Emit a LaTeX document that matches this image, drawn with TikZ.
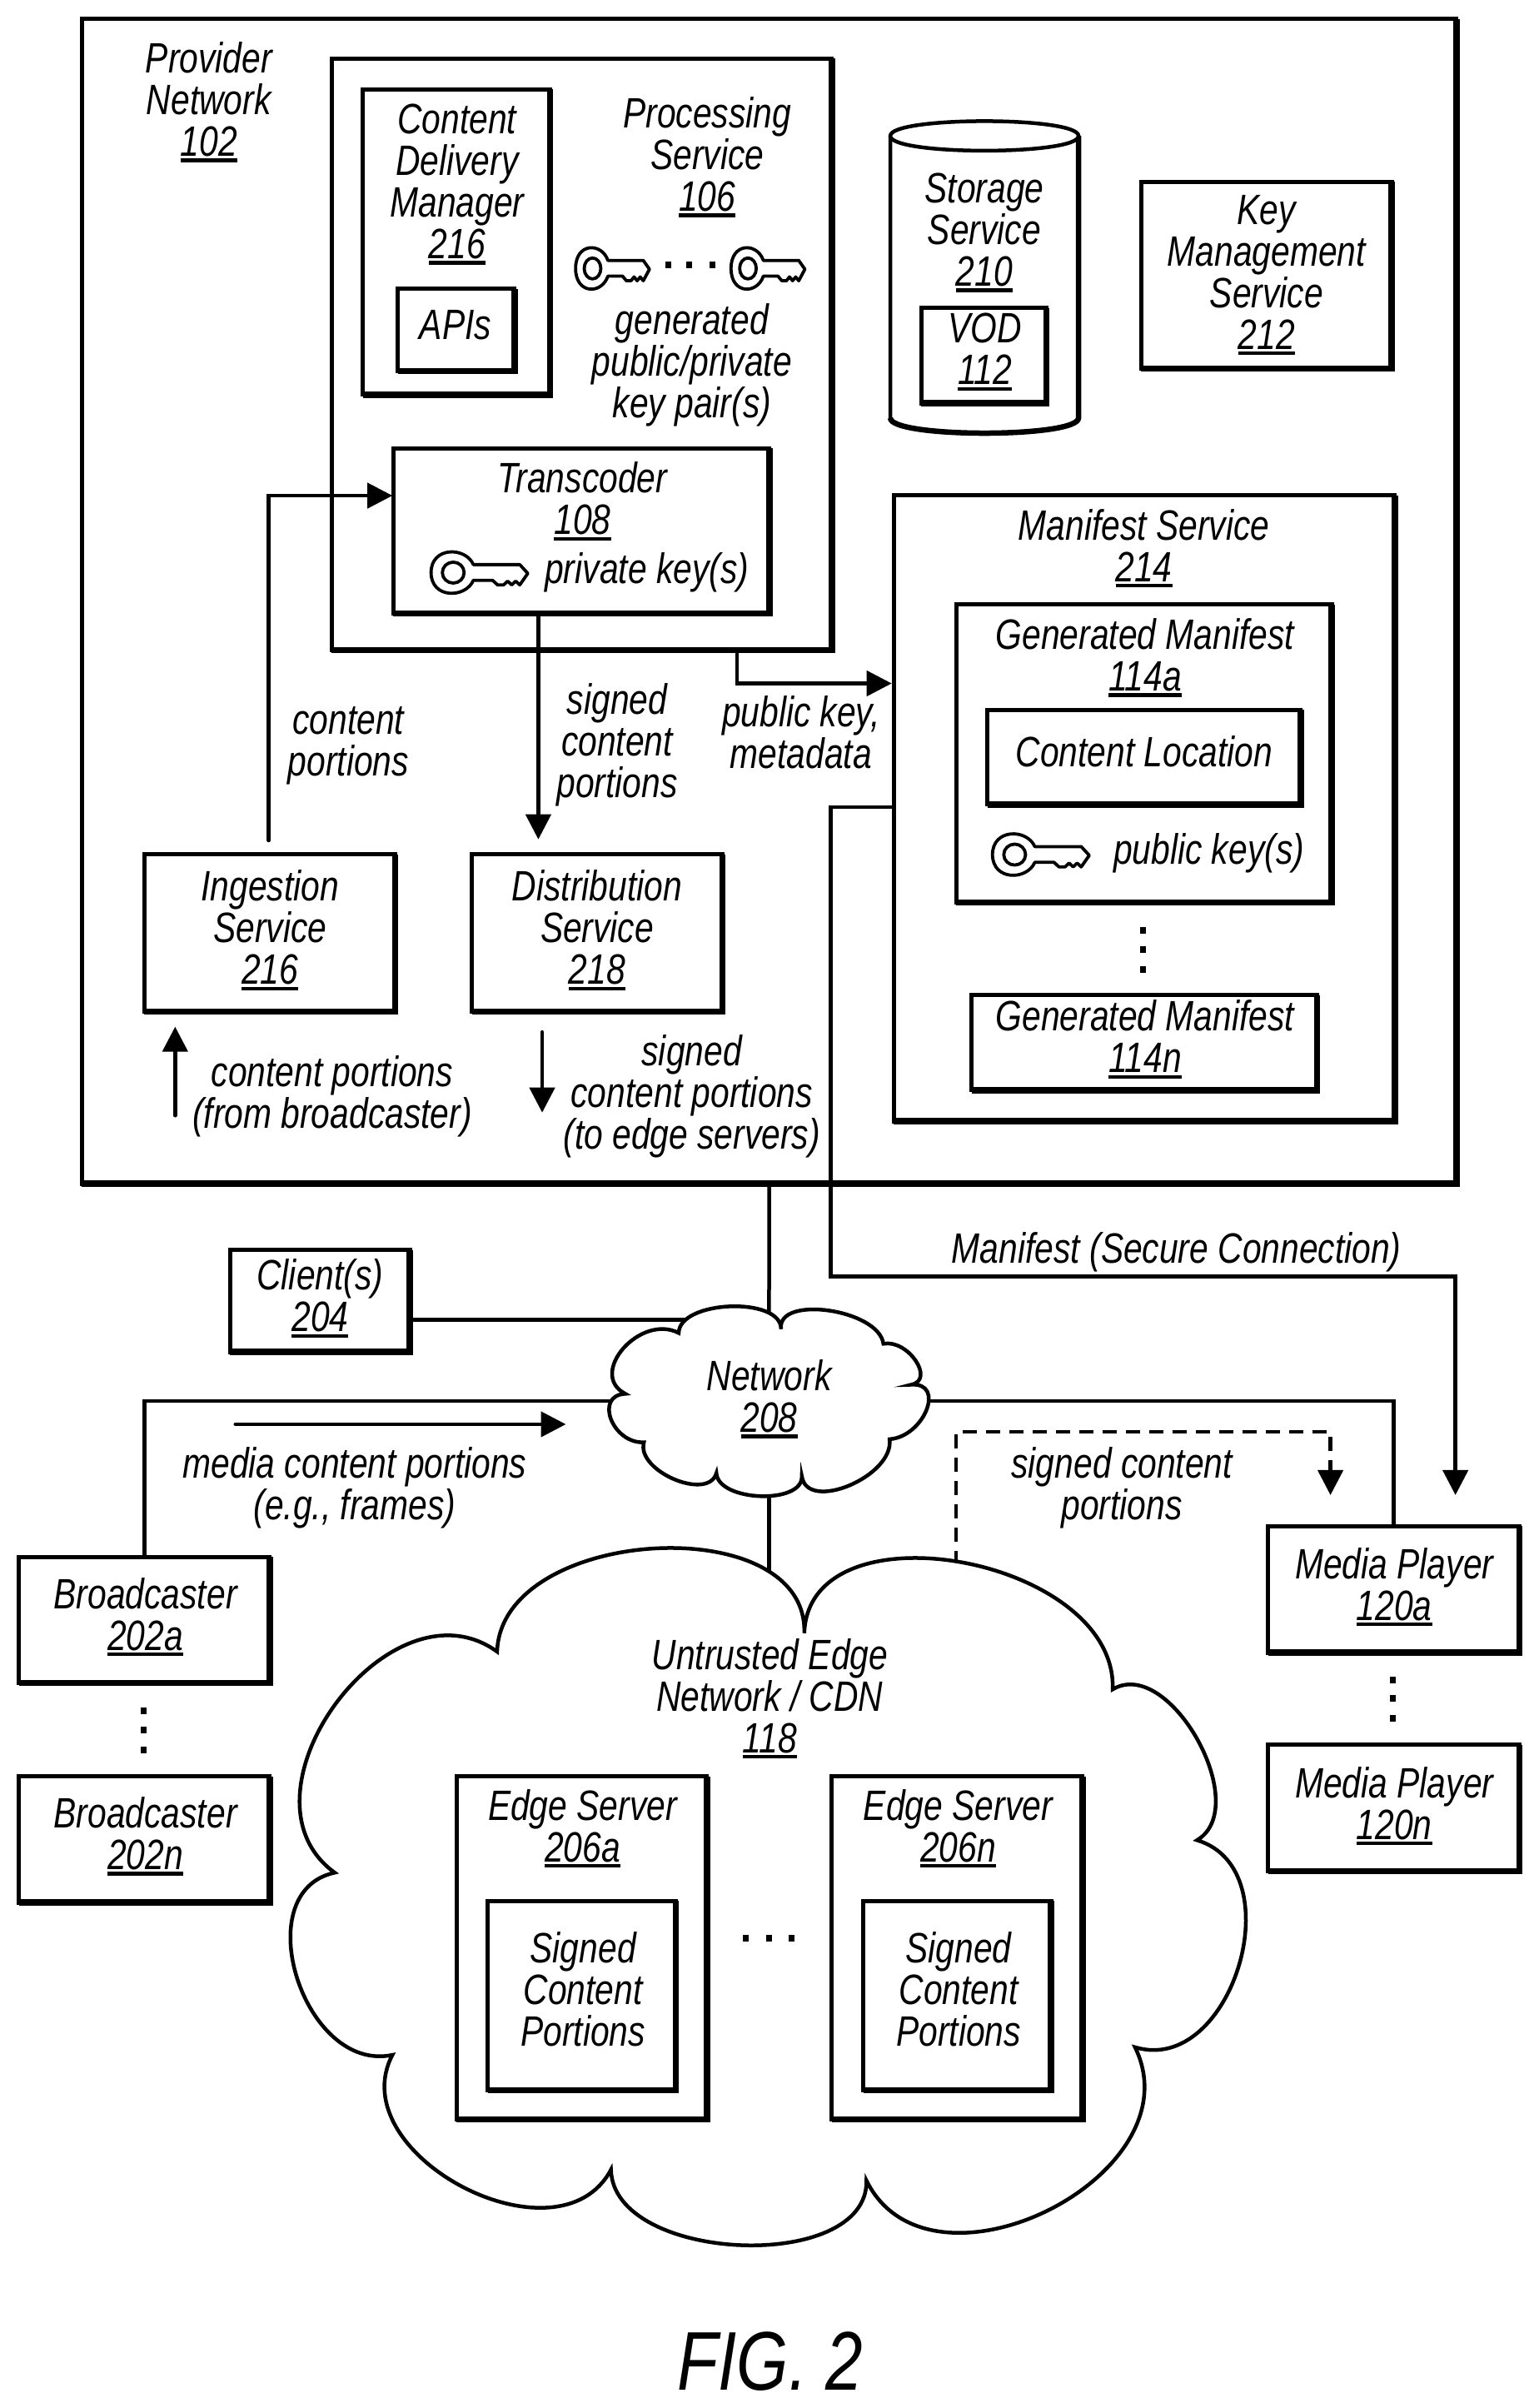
\documentclass[tikz,border=0pt]{standalone}
\usepackage{fontspec}
\setmainfont[FakeStretch=0.8]{Liberation Sans}
\usetikzlibrary{fit,calc,arrows.meta}
\newcommand\ul[1]{\setbox0\hbox{#1}\leavevmode\rlap{\smash{\raisebox{-7pt}{\rule{\wd0}{4.3pt}}}}\box0 }
\newcommand\bx[5]{\node[boxn,fit={(#2,#3)(#4,#5)}] (#1) {};
  \draw[thickedge] (#1.north east) -- (#1.south east) -- (#1.south west);}
\newcommand\lobe[3]{.. controls ($(#1)+1.3333*(#2)-0.66665*(#1)-0.66665*(#3)$) and ($(#3)+1.3333*(#2)-0.66665*(#1)-0.66665*(#3)$) .. (#3)}
\newcommand\keyicon[4]{\begin{scope}[shift={(#1,#2)},xscale=#3,yscale=#4]
  \draw[keyline] (10,5) .. controls (6,17) and (-11,17) .. (-11,0) .. controls (-11,-17) and (6,-17) .. (10,-5.2)
    -- (33,-5.2) -- (37,0.5) -- (33,8) -- (31,5.5) -- (29,8) -- (27,5.5) -- (25,8) -- (22,8) -- (19.5,5) -- cycle;
  \draw[keyline] (0,0) circle [x radius=5.4,y radius=6.8];
\end{scope}}
\newcommand\tn[4]{\node[txt] (#1) at (#2,#3) {\rule{0pt}{40pt}#4\rule[-12pt]{0pt}{12pt}};}
\tikzset{
  x=1.848pt,y=-1.848pt,
  boxn/.style={draw,fill=white,line width=5pt,inner sep=0pt,outer sep=0pt},
  thickedge/.style={line width=7.5pt,line cap=butt,line join=miter},
  conn/.style={line width=4.5pt,line join=miter,line cap=round},
  arr/.style={-{Triangle[length=30pt,width=30pt]}},
  dashconn/.style={line width=4.5pt,line join=miter,line cap=butt,dash pattern=on 17pt off 11pt},
  cloudl/.style={draw,fill=white,line width=4.5pt,line join=miter},
  keyline/.style={line width=3.8pt,line join=round,fill=white},
  txt/.style={font=\fontsize{51}{50}\selectfont\itshape,align=center,inner sep=0pt,anchor=north,yshift=40pt},
  dotm/.style={fill=black,inner sep=0pt,minimum width=7pt,minimum height=8pt},
  figt/.style={font=\fontsize{100}{100}\selectfont\itshape,inner sep=0pt,anchor=base},
}
\begin{document}
\begin{tikzpicture}
\useasboundingbox (0,0) rectangle (1000,1564.4);
\bx{provider}{53.2}{12.3}{946.3}{769}
\bx{processing}{215.4}{37.9}{540.5}{422.3}
\bx{cdm}{235.8}{58}{357.3}{256.4}
\bx{apis}{258.4}{187.6}{334.3}{241.2}
\bx{transcoder}{255.5}{291.3}{499.9}{398.5}
% storage cylinder
\draw[line width=4.5pt,fill=white] (578.5,88.3) -- (578.5,271.5) .. controls (578.5,284.7) and (700.8,284.7) .. (700.8,271.5) -- (700.8,88.3);
\draw[line width=6.5pt] (700.8,88.3) -- (700.8,271.5) .. controls (700.8,284.7) and (578.5,284.7) .. (578.5,271.5);
\draw[line width=4.5pt,fill=white] (578.5,88.3) .. controls (578.5,75.5) and (700.8,75.5) .. (700.8,88.3) .. controls (700.8,101.1) and (578.5,101.1) .. (578.5,88.3) -- cycle;
\bx{vod}{598.5}{200}{680}{262}
\bx{kms}{741.5}{118}{904.3}{239.5}
\bx{manifest}{580.8}{321.8}{906.3}{728.4}
\bx{gma}{621.4}{392.7}{865.3}{586.4}
\bx{cloc}{641.6}{461.2}{845.2}{522.6}
\bx{gmn}{631.3}{646.6}{855.7}{708.3}
\bx{ingest}{93.8}{555}{256.7}{657.3}
\bx{distrib}{306.6}{555}{469.3}{657.3}
\bx{clients}{149.5}{812}{266.3}{878.3}
\bx{brA}{12.4}{1011.5}{175.3}{1093.3}
\bx{brN}{12.4}{1154}{175.3}{1236}
\bx{mpA}{824.1}{991.6}{987.3}{1073.6}
\bx{mpN}{824.1}{1133.6}{987.3}{1215.6}
% keys
\keyicon{385}{174.4}{1}{1}
\keyicon{486}{174.4}{1}{1}
\keyicon{294.5}{372}{1.31}{1}
\keyicon{659.3}{555.2}{1.31}{1}
% named connector ends
\coordinate (ingout) at (174.6,546);
\coordinate (tin) at (255,322);
\coordinate (tout) at (349.8,398.5);
\coordinate (din) at (349.8,545.3);
\coordinate (pout) at (479,422.3);
\coordinate (mkey) at (579.4,444);
\coordinate (mout) at (580.8,524.4);
\coordinate (mbend) at (539.7,829.2);
\coordinate (mpin) at (945.7,971.3);
\coordinate (netc) at (499.7,905);
\coordinate (netw) at (470,857.3);
\coordinate (netbr) at (420,910.3);
\coordinate (netmp) at (590,910.3);
\coordinate (edgec) at (499.7,1100);
\coordinate (dstart) at (621.1,1032);
\coordinate (dbend) at (621.1,930.3);
\coordinate (dend) at (864.5,971.3);
\coordinate (a1s) at (113.8,724.7);
\coordinate (a1e) at (113.8,667);
\coordinate (a2s) at (352.3,670.5);
\coordinate (a2e) at (352.3,722.8);
\coordinate (a3s) at (153,925.3);
\coordinate (a3e) at (367.7,925.3);
% connectors
\draw[conn,arr] (ingout) |- (tin);
\draw[conn,arr] (tout) -- (din);
\draw[conn,arr] (pout) |- (mkey);
\draw[conn,arr] (mout) -| (mbend) -| (mpin);
\draw[conn] (provider.south) -- (netc);
\draw[conn] (clients.east |- netw) -- (netw);
\draw[conn] (brA.north) |- (netbr);
\draw[conn] (netmp) -| (mpA.north);
\draw[conn] (netc) -- (edgec);
\draw[dashconn,arr] (dstart) |- (dend |- dbend) -- (dend);
\draw[conn,arr] (a1s) -- (a1e);
\draw[conn,arr] (a2s) -- (a2e);
\draw[conn,arr] (a3s) -- (a3e);
% network cloud
\draw[cloudl] (441,866) \lobe{441,866}{474.5,848.7}{507.5,863.5} \lobe{507.5,863.5}{538.5,851.4}{574,873}
  \lobe{574,873}{595,884}{592,899.6} \lobe{592,899.6}{602,916}{578,935}
  \lobe{578,935}{552,965}{521,959} \lobe{521,959}{494,972}{465.5,957}
  \lobe{465.5,957}{438,961}{418.4,937} \lobe{418.4,937}{397,922}{406.3,905.5}
  \lobe{406.3,905.5}{405,876}{441,866} -- cycle;
% edge cloud
\draw[cloudl] (323,1073) \lobe{323,1073}{424.8,1006}{522.6,1061} \lobe{522.6,1061}{625,1015}{723,1097.5}
  \lobe{723,1097.5}{778,1130}{777.8,1195.5} \lobe{777.8,1195.5}{805,1277}{737.5,1330}
  \lobe{737.5,1330}{681,1436}{563,1416.6} \lobe{563,1416.6}{481,1458.6}{397,1409.5}
  \lobe{397,1409.5}{300.5,1420.7}{255,1335} \lobe{255,1335}{193,1285}{217.5,1216.6}
  \lobe{217.5,1216.6}{218,1107}{323,1073} -- cycle;
\bx{esA}{296.6}{1154}{459.4}{1377}
\bx{esN}{540.5}{1154}{703.4}{1377}
\bx{scA}{317}{1235}{439}{1358}
\bx{scN}{561}{1235}{683}{1358}
% dots
\foreach \n/\x/\y in {a/434/172,b/448/172,c/463/172,d/742.8/604.6,e/742.8/616.9,f/742.8/629.9,g/93.4/1111.5,h/93.4/1124,i/93.4/1136.7,j/905.1/1091.3,k/905.1/1103.5,l/905.1/1116.5,m/484.4/1259,n/499.7/1259,o/514.5/1259}
  \node[dotm] (dot\n) at (\x,\y) {};
% texts (y = first baseline)
\tn{t1}{135.7}{47.3}{Provider\\Network\\\ul{102}}
\tn{t2}{297}{86.9}{Content\\Delivery\\Manager\\\ul{216}}
\tn{t3}{296}{220.4}{APIs}
\tn{t4}{459.5}{83}{Processing\\Service\\\ul{106}}
\tn{t5}{449.6}{217.4}{generated\\public/private\\key pair(s)}
\tn{t6}{378.5}{320.2}{Transcoder\\\ul{108}}
\tn{t7}{420.3}{378.8}{private key(s)}
\tn{t8}{639.6}{131.7}{Storage\\Service\\\ul{210}}
\tn{t9}{640}{222.8}{VOD\\\ul{112}}
\tn{t10}{823}{145.5}{Key\\Management\\Service\\\ul{212}}
\tn{t11}{743.3}{350.8}{Manifest Service\\\ul{214}}
\tn{t12}{744}{421.7}{Generated Manifest\\\ul{114a}}
\tn{t13}{743.4}{498.2}{Content Location}
\tn{t14}{785.5}{561.3}{public key(s)}
\tn{t15}{744}{669.7}{Generated Manifest\\\ul{114n}}
\tn{t16}{226.4}{477.1}{content\\portions}
\tn{t17}{401}{464}{signed\\content\\portions}
\tn{t18}{520.5}{472}{public key,\\metadata}
\tn{t19}{175.4}{585.3}{Ingestion\\Service\\\ul{216}}
\tn{t20}{388}{585.3}{Distribution\\Service\\\ul{218}}
\tn{t21}{215.9}{705.8}{content portions\\(from broadcaster)}
\tn{t22}{449.5}{692.5}{signed\\content portions\\(to edge servers)}
\tn{t23}{764.5}{820.7}{Manifest (Secure Connection)}
\tn{t24}{208}{838}{Client(s)\\\ul{204}}
\tn{t25}{499.8}{903.3}{Network\\\ul{208}}
\tn{t26}{230.5}{960}{media content portions\\(e.g., frames)}
\tn{t27}{729}{960}{signed content\\portions}
\tn{t28}{94.5}{1044.9}{Broadcaster\\\ul{202a}}
\tn{t29}{94.5}{1187.4}{Broadcaster\\\ul{202n}}
\tn{t30}{906}{1025.4}{Media Player\\\ul{120a}}
\tn{t31}{906}{1167.9}{Media Player\\\ul{120n}}
\tn{t32}{500.2}{1084.4}{Untrusted Edge\\Network / CDN\\\ul{118}}
\tn{t33}{378.5}{1182.4}{Edge Server\\\ul{206a}}
\tn{t34}{622.5}{1182.4}{Edge Server\\\ul{206n}}
\tn{t35}{378.9}{1275.3}{Signed\\Content\\Portions}
\tn{t36}{622.9}{1275.3}{Signed\\Content\\Portions}
\node[figt] (fig) at (500.5,1552.6) {FIG. 2};
\end{tikzpicture}
\end{document}
